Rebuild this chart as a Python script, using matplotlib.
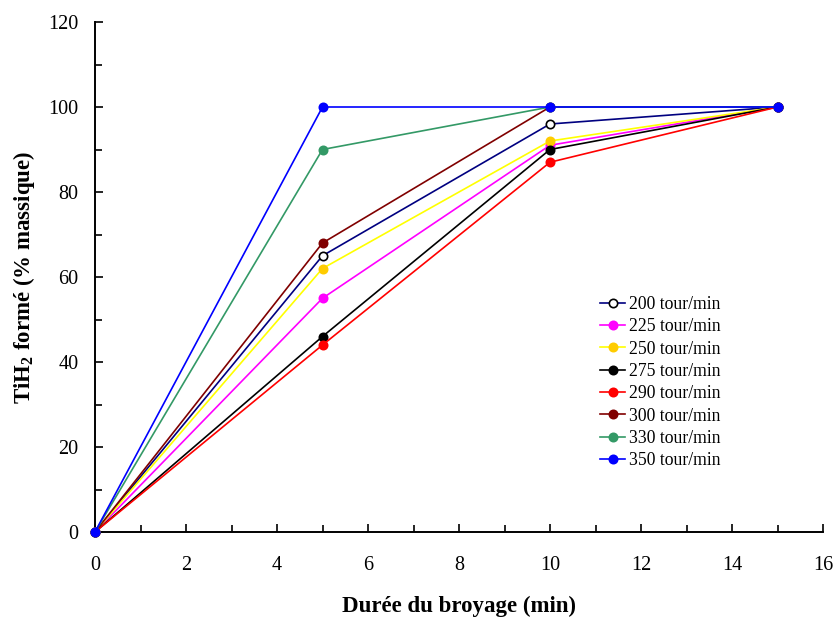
import matplotlib
matplotlib.use("Agg")
import matplotlib.pyplot as plt
from matplotlib.ticker import MultipleLocator

plt.rcParams['font.family'] = ['Liberation Serif', 'DejaVu Serif']
plt.rcParams['mathtext.fontset'] = 'custom'
plt.rcParams['mathtext.rm'] = 'Liberation Serif'
plt.rcParams['mathtext.bf'] = 'Liberation Serif:bold'

# Data
temps = [0, 5, 10, 15]
labels = ['200 tour/min', '225 tour/min', '250 tour/min', '275 tour/min',
          '290 tour/min', '300 tour/min', '330 tour/min', '350 tour/min']
v200 = [0, 65, 96, 100]
v225 = [0, 55, 91, 100]
v250 = [0, 62, 92, 100]
v275 = [0, 46, 90, 100]
v290 = [0, 44, 87, 100]
v300 = [0, 68, 100, 100]
v330 = [0, 90, 100, 100]
v350 = [0, 100, 100, 100]

series = [v200, v225, v250, v275, v290, v300, v330, v350]
line_colors = ['#000080', '#FF00FF', '#FFFF00', '#000000', '#FF0000', '#800000', '#339966', '#0000FF']
marker_colors = ['white', '#FF00FF', '#FFCC00', '#000000', '#FF0000', '#800000', '#339966', '#0000FF']
edge_colors = ['black', '#FF00FF', '#FFCC00', '#000000', '#FF0000', '#800000', '#339966', '#0000FF']

fig = plt.figure(figsize=(8.35, 6.17), dpi=100)
ax = fig.add_axes([95/835, 1-532/617, (823-95)/835, (532-22)/617])

for vals, lab, lc, mc, ec in zip(series, labels, line_colors, marker_colors, edge_colors):
    ax.plot(temps, vals, color=lc, lw=1.2, marker='o', markersize=6,
            markerfacecolor=mc, markeredgecolor=ec, markeredgewidth=1.2,
            label=lab, clip_on=False, zorder=3)

ax.set_xlim(0, 16)
ax.set_ylim(0, 120)
ax.xaxis.set_major_locator(MultipleLocator(2))
ax.xaxis.set_minor_locator(MultipleLocator(1))
ax.yaxis.set_major_locator(MultipleLocator(20))
ax.yaxis.set_minor_locator(MultipleLocator(10))
ax.tick_params(which='both', direction='in', labelsize=14.5, width=1.2)
ax.tick_params(which='major', length=6)
ax.tick_params(which='minor', length=5)
ax.tick_params(axis='y', which='major', pad=12)
ax.tick_params(axis='x', which='major', pad=17)
ax.spines['top'].set_visible(False)
ax.spines['right'].set_visible(False)
ax.spines['left'].set_linewidth(1.4)
ax.spines['bottom'].set_linewidth(1.4)

ax.set_xlabel('Durée du broyage (min)', fontsize=16.5, fontweight='bold', labelpad=15)
ax.set_ylabel(r'TiH$_\mathbf{2}$ formé (% massique)', fontsize=16.5, fontweight='bold', labelpad=8)

ax.legend(loc='center left', bbox_to_anchor=(0.694, 0.293), frameon=False, fontsize=12.7,
          handlelength=1.4, handletextpad=0.25, labelspacing=0.3,
          borderpad=0, borderaxespad=0)

fig.savefig('out.png', dpi=100)
